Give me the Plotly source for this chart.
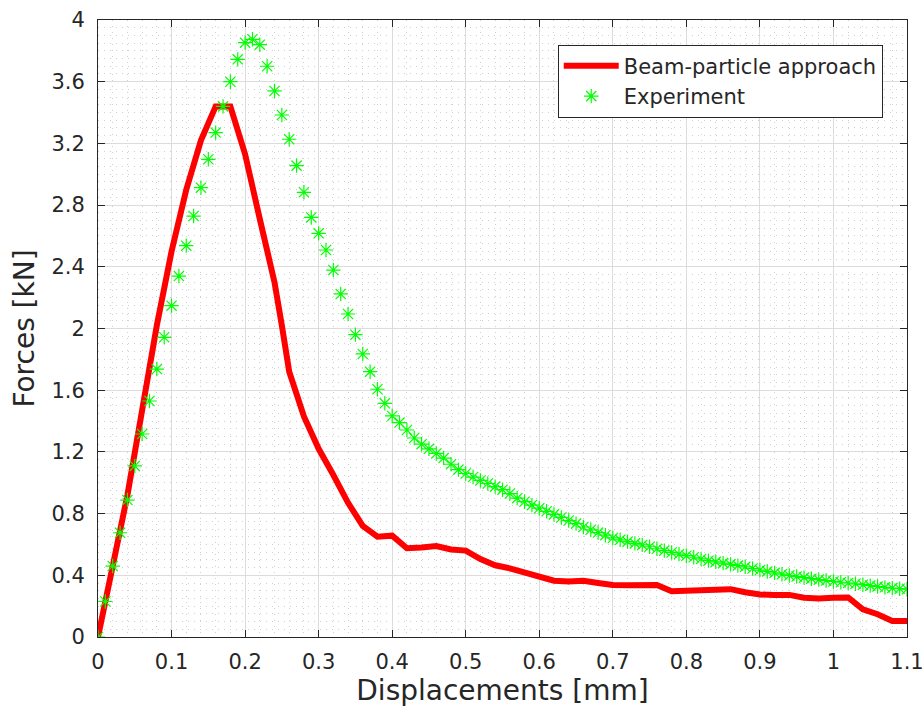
import numpy as np
import plotly.graph_objects as go

# Experiment: displacement (mm) and force (kN)
exp_x = [round(i * 0.01, 2) for i in range(111)]
exp_y = [0, 0.23, 0.46, 0.676, 0.888, 1.109, 1.316, 1.53, 1.737, 1.943,
         2.148, 2.34, 2.537, 2.729, 2.913, 3.097, 3.27, 3.44, 3.60, 3.745,
         3.853, 3.875, 3.84, 3.70, 3.54, 3.384, 3.227, 3.056, 2.883, 2.72,
         2.617, 2.509, 2.379, 2.224, 2.094, 1.96, 1.835, 1.72, 1.606, 1.515,
         1.433, 1.39, 1.342, 1.29, 1.25, 1.22, 1.19, 1.16, 1.12, 1.085,
         1.06, 1.037, 1.015, 0.995, 0.975, 0.955, 0.93, 0.90, 0.877, 0.855,
         0.835, 0.815, 0.795, 0.775, 0.755, 0.735, 0.713, 0.695, 0.677, 0.66,
         0.642, 0.63, 0.618, 0.607, 0.597, 0.585, 0.572, 0.56, 0.548, 0.537,
         0.527, 0.517, 0.506, 0.495, 0.487, 0.479, 0.471, 0.463, 0.455, 0.444,
         0.434, 0.425, 0.416, 0.407, 0.399, 0.392, 0.385, 0.378, 0.372, 0.366,
         0.36, 0.355, 0.35, 0.345, 0.339, 0.333, 0.327, 0.322, 0.317, 0.313,
         0.31]

# Beam-particle approach
sim_x = [0, 0.02, 0.04, 0.06, 0.08, 0.10, 0.12, 0.14, 0.16, 0.18,
         0.20, 0.22, 0.24, 0.25, 0.26, 0.28, 0.30, 0.32, 0.34, 0.36,
         0.38, 0.40, 0.42, 0.44, 0.46, 0.48, 0.50, 0.52, 0.54, 0.56,
         0.58, 0.60, 0.62, 0.64, 0.66, 0.68, 0.70, 0.72, 0.74, 0.76,
         0.78, 0.80, 0.82, 0.84, 0.86, 0.88, 0.90, 0.92, 0.94, 0.96,
         0.98, 1.00, 1.02, 1.04, 1.06, 1.08, 1.10]
sim_y = [0, 0.45, 0.92, 1.47, 2.02, 2.50, 2.90, 3.22, 3.44, 3.44,
         3.13, 2.71, 2.30, 2.02, 1.72, 1.43, 1.22, 1.05, 0.87, 0.72,
         0.65, 0.657, 0.575, 0.58, 0.59, 0.567, 0.56, 0.505, 0.465, 0.445,
         0.42, 0.39, 0.365, 0.36, 0.365, 0.35, 0.337, 0.335, 0.335, 0.337,
         0.297, 0.298, 0.302, 0.306, 0.31, 0.29, 0.275, 0.273, 0.273, 0.255,
         0.25, 0.255, 0.256, 0.18, 0.148, 0.104, 0.104]

FONT = "DejaVu Sans"
AX = "#262626"

fig = go.Figure()
fig.add_trace(go.Scatter(
    x=sim_x, y=sim_y, mode="lines", name="Beam-particle approach",
    line=dict(color="#ff0000", width=6)))
fig.add_trace(go.Scatter(
    x=exp_x, y=exp_y, mode="markers", name="Experiment",
    marker=dict(symbol="asterisk-open", size=12, color="#00ff00",
                line=dict(color="#00ff00", width=1.2))))

axis_common = dict(
    showline=True, linecolor=AX, linewidth=1, mirror="ticks",
    ticks="inside", ticklen=7, tickcolor=AX, tickwidth=1,
    showgrid=True, gridcolor="#dcdcdc", gridwidth=1,
    zeroline=False, automargin=False,
    tickfont=dict(family=FONT, size=21, color=AX),
)
minor_common = dict(showgrid=True, gridcolor="#d0d0d0",
                    griddash="1px,5px", gridwidth=1)

fig.update_layout(
    width=924, height=711,
    margin=dict(l=98, r=17, t=20, b=74),
    paper_bgcolor="white", plot_bgcolor="white",
    font=dict(family=FONT, color=AX),
    xaxis=dict(range=[0, 1.1], dtick=0.1, tick0=0, ticklabelstandoff=6,
               title=dict(text="Displacements [mm]",
                          font=dict(family=FONT, size=28, color=AX), standoff=4),
               minor=dict(dtick=0.02, **minor_common),
               **axis_common),
    yaxis=dict(range=[0, 4], dtick=0.4, tick0=0, ticklabelstandoff=8,
               title=dict(text="Forces [kN]",
                          font=dict(family=FONT, size=28, color=AX), standoff=8),
               minor=dict(dtick=0.05, **minor_common),
               **axis_common),
    legend=dict(x=0.97, y=0.96, xanchor="right", yanchor="top",
                bgcolor="white", bordercolor=AX, borderwidth=1,
                font=dict(family=FONT, size=21, color=AX),
                itemwidth=55, tracegroupgap=0),
    showlegend=True,
)

fig.write_html("out.html", config={"displayModeBar": False},
               post_script="document.body.style.margin='0';document.body.style.overflow='hidden';")
